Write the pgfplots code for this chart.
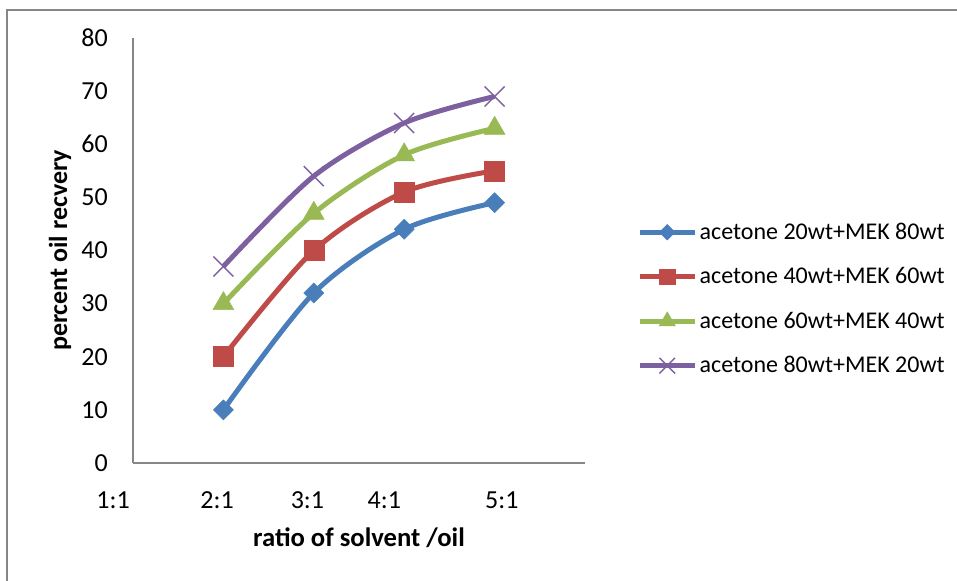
\documentclass[border=0pt]{standalone}
\usepackage{fontspec}
\setmainfont{Carlito}
\usepackage{pgfplots}
\pgfplotsset{compat=1.18}

\definecolor{cBlue}{HTML}{4A7EBB}
\definecolor{cRed}{HTML}{BE4B48}
\definecolor{cGreen}{HTML}{98B954}
\definecolor{cPurple}{HTML}{7D60A0}
\definecolor{axisgray}{HTML}{868686}

\begin{document}
\begin{tikzpicture}
\path[use as bounding box] (0,0) rectangle (717.75pt,-435.75pt);
% outer chart frame (left and top edges)
\draw[color=axisgray, line width=1.1pt] (5.25pt,-436pt) -- (5.25pt,-7.5pt) -- (718pt,-7.5pt);
\begin{axis}[
  at={(99.75pt,-347.25pt)}, anchor=south west,
  scale only axis, width=339pt, height=318.75pt,
  xmin=0, xmax=5, ymin=0, ymax=80,
  axis lines=left,
  axis line style={-, draw=axisgray, line width=1.1pt},
  clip=false,
  major tick length=0pt,
  /pgf/number format/assume math mode=true,
  ytick={0,10,...,80},
  xtick={0.93,1.93,2.78,4.08},
  xticklabels={2:1,3:1,4:1,5:1},
  tick label style={font=\fontsize{19.5}{23}\selectfont, inner sep=0pt},
  yticklabel style={anchor=east, xshift=-18.75pt},
  xticklabel style={anchor=center, yshift=-27.75pt},
  every axis y label/.style={at={(axis description cs:0,0.5)}, xshift=-54.75pt, rotate=90, anchor=center, font=\fontsize{19.5}{23}\selectfont\bfseries},
  every axis x label/.style={at={(axis description cs:0.5,0)}, yshift=-56.25pt, anchor=center, font=\fontsize{20}{24}\selectfont\bfseries},
  xlabel={ratio of solvent /oil},
  ylabel={percent oil recvery},
  legend style={draw=none, fill=none, at={(1.115,0.386)}, anchor=west,
    inner sep=0pt, row sep=19.6pt, column sep=1.8pt,
    nodes={inner sep=0pt, font=\fontsize{18}{22}\selectfont}},
  legend cell align=left,
  legend image code/.code={
    \draw[#1, every mark/.append style={scale=0.78}, mark repeat=2, mark phase=2]
      plot coordinates {(0pt,0pt) (20.625pt,0pt) (41.25pt,0pt)};
  },
  every axis plot/.append style={line width=3.75pt, smooth, tension=0.5},
]
\addplot[cBlue, mark=square*, mark size=5.3pt, mark options={rotate=45, line width=0.4pt, solid}]
  coordinates {(1,10) (2,32) (3,44) (4,49)};
\addlegendentry{acetone 20wt+MEK 80wt}
\addplot[cRed, mark=square*, mark size=7.5pt, mark options={line width=0.4pt, solid}]
  coordinates {(1,20) (2,40) (3,51) (4,55)};
\addlegendentry{acetone 40wt+MEK 60wt}
\addplot[cGreen, mark=triangle*, mark size=9pt, mark options={line width=0.4pt, solid}]
  coordinates {(1,30) (2,47) (3,58) (4,63)};
\addlegendentry{acetone 60wt+MEK 40wt}
\addplot[cPurple, mark=x, mark size=10.6pt, mark options={line width=1.1pt, solid}]
  coordinates {(1,37) (2,54) (3,64) (4,69)};
\addlegendentry{acetone 80wt+MEK 20wt}
% first category label sits left of the axis start
\node[font=\fontsize{19.5}{23}\selectfont, inner sep=0pt, anchor=center, yshift=-27.75pt] at (axis cs:-0.22,0) {1:1};
\end{axis}
\end{tikzpicture}
\end{document}
